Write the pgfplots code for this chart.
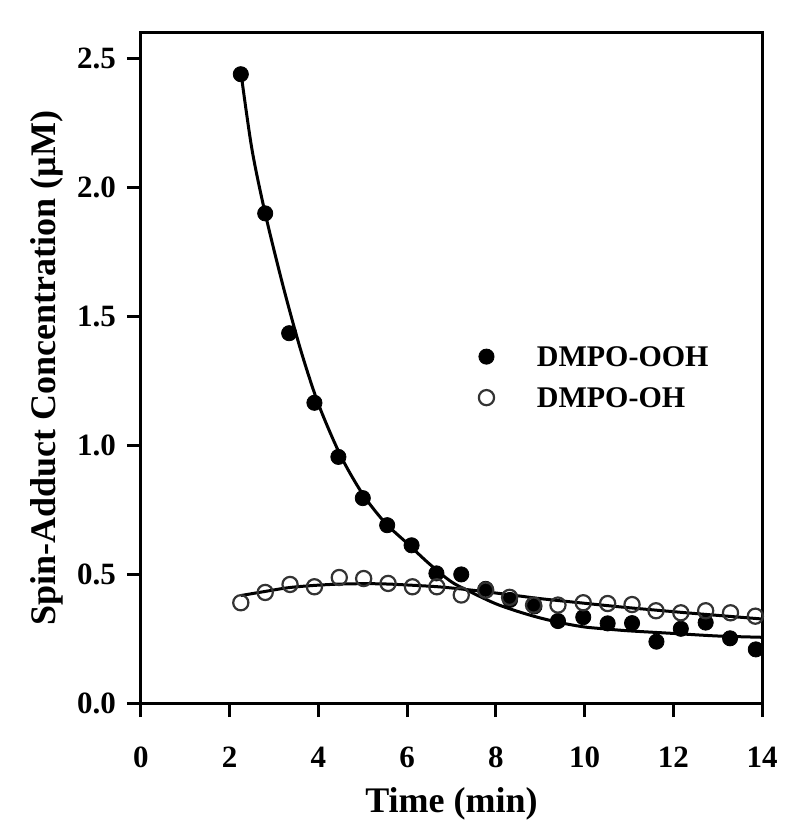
\documentclass[border=0pt]{standalone}
\usepackage{pgfplots}
\pgfplotsset{compat=1.18}
\usepackage{fontspec}
\setmainfont{Liberation Serif}
\definecolor{opengray}{HTML}{333333}
\begin{document}
\begin{tikzpicture}
\begin{axis}[
  scale only axis,
  width=310.5pt, height=335pt,
  xmin=0, xmax=14, ymin=0, ymax=2.6,
  xtick={0,2,...,14},
  ytick={0,0.5,1,1.5,2,2.5},
  axis line style={line width=1.5pt},
  xtick style={draw=black, line width=1.5pt},
  ytick style={draw=black, line width=1.5pt},
  tick pos=left,
  tick align=outside,
  major tick length=7pt,
  ticklabel style={/pgf/number format/assume math mode=true, font=\bfseries\fontsize{15.5}{15.5}\selectfont},
  yticklabel style={/pgf/number format/fixed, /pgf/number format/fixed zerofill, /pgf/number format/precision=1, anchor=east, xshift=-2pt},
  xticklabel style={anchor=base, yshift=-25pt},
  xlabel={Time (min)},
  ylabel={Spin-Adduct Concentration (µM)},
  every axis x label/.style={at={(axis description cs:0.5,-0.164)}, anchor=base, font=\bfseries\fontsize{18}{18}\selectfont},
  every axis y label/.style={at={(axis description cs:-0.138,0.5)}, rotate=90, anchor=base, font=\bfseries\fontsize{18}{18}\selectfont},
  legend style={at={(axis cs:7.59,1.40)}, anchor=north west, draw=none, fill=none,
    inner sep=0pt, row sep=6.5pt,
    font=\bfseries\fontsize{15}{15}\selectfont,
    nodes={inner sep=0pt, text height=12pt, text depth=2pt}},
  legend cell align=left,
  legend image code/.code={\path (-4pt,0pt) (25pt,0pt); \draw[#1] plot coordinates {(0pt,0pt)};},
]
\addplot[only marks, mark=*, mark size=3.8pt, black, forget plot] coordinates {
(2.25,2.44)(2.80,1.90)(3.34,1.435)(3.91,1.165)(4.45,0.955)(5.00,0.795)(5.55,0.69)(6.10,0.612)(6.66,0.503)(7.22,0.499)(7.77,0.443)(8.32,0.40)(8.87,0.375)(9.40,0.318)(9.97,0.333)(10.52,0.309)(11.07,0.31)(11.62,0.238)(12.17,0.288)(12.73,0.312)(13.28,0.251)(13.86,0.208)
};
\addplot[only marks, mark=o, mark size=3.8pt, mark options={line width=1.1pt, draw=opengray}, forget plot] coordinates {
(2.25,0.389)(2.80,0.429)(3.36,0.46)(3.91,0.451)(4.47,0.487)(5.02,0.483)(5.57,0.464)(6.12,0.451)(6.67,0.451)(7.22,0.419)(7.77,0.438)(8.31,0.41)(8.85,0.38)(9.40,0.38)(9.97,0.389)(10.52,0.386)(11.07,0.382)(11.61,0.358)(12.17,0.35)(12.73,0.358)(13.29,0.35)(13.85,0.337)
};
\addplot[line width=1.5pt, black, smooth, no marks, forget plot] coordinates {
(2.25,2.45)(2.5,2.15)(2.8,1.90)(3.2,1.62)(3.6,1.37)(4.0,1.16)(4.5,0.96)(5.0,0.81)(5.5,0.70)(6.0,0.62)(6.5,0.54)(7.0,0.47)(7.5,0.425)(8.0,0.385)(8.5,0.355)(9.0,0.33)(9.5,0.31)(10,0.295)(10.5,0.287)(11,0.28)(12,0.27)(13,0.26)(14,0.255)
};
\addplot[line width=1.5pt, black, smooth, no marks, forget plot] coordinates {
(2.25,0.417)(2.8,0.433)(3.3,0.447)(3.8,0.455)(4.4,0.461)(5.0,0.463)(5.5,0.462)(6.0,0.458)(6.7,0.451)(7.3,0.441)(7.8,0.431)(8.5,0.416)(9.0,0.405)(10,0.387)(10.8,0.373)(11.5,0.362)(12.3,0.35)(13,0.34)(14,0.326)
};
\addlegendimage{only marks, mark=*, mark size=3.8pt, black}
\addlegendentry{DMPO-OOH}
\addlegendimage{only marks, mark=o, mark size=3.8pt, mark options={line width=1.1pt, draw=opengray}}
\addlegendentry{DMPO-OH}
\end{axis}
\path ([shift={(-70.5pt,-68pt)}]current axis.south west) rectangle ([shift={(18.5pt,16.5pt)}]current axis.north east);
\end{tikzpicture}
\end{document}
